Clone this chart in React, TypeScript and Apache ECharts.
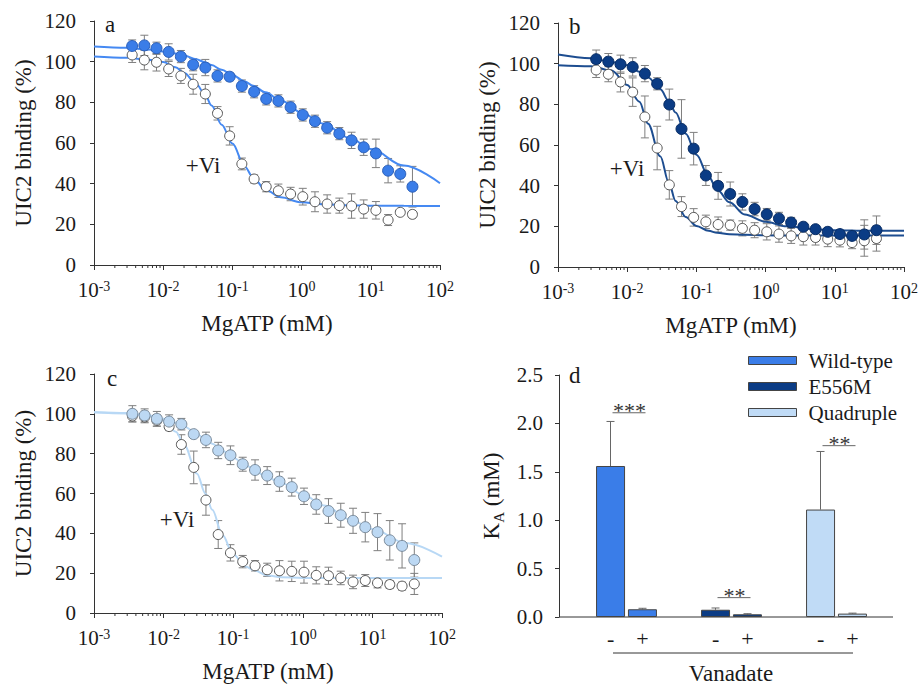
import React, { useEffect, useRef } from 'react';
import * as echarts from 'echarts';

const FONT = 'Liberation Serif';
const INK = '#1a1a1a';

// MgATP concentrations (mM) of the data points
const CONC = [0.00356, 0.00534, 0.008, 0.012, 0.018, 0.0271, 0.0406, 0.0609, 0.0913, 0.137, 0.206, 0.308,
  0.462, 0.694, 1.04, 1.56, 2.34, 3.51, 5.27, 7.9, 11.85, 17.78, 26.67, 40];

// Panel a: wild-type
const A_WT = [107.7, 108, 106.6, 104.8, 102.5, 98.5, 97.1, 93, 92.6, 88, 85.2, 81.7, 80.7, 77.6, 73.8, 70.7, 67.5, 64.6, 61.3, 57.9, 54.9, 46.4, 44.8, 38.5];
const A_WT_ERR = [3, 5, 3, 4, 3, 3, 4, 3, 2, 3, 3, 3, 3, 3, 3, 3, 3, 3, 4, 4, 7, 6, 4, 10];
const A_VI = [103.3, 100.8, 99.7, 96.4, 93, 88.9, 84.1, 74.6, 63.5, 49.7, 42.3, 38.5, 36.5, 34.9, 33.6, 31.1, 30, 29.2, 29, 27.5, 26.9, 22.1, 25.9, 24.9];
const A_VI_ERR = [3.7, 4.8, 4.3, 3.7, 3.7, 4.9, 4.7, 3.3, 4.5, 2.9, 2, 2.5, 3.3, 3.3, 4.1, 4.9, 4.5, 3.7, 6, 4.5, 4.3, 2.7, 1, 1];

// Panel b: E556M
const B_E = [102.2, 101, 99.7, 98.4, 95.1, 90.1, 79.9, 67.9, 58.2, 45, 39.9, 35.9, 32, 28.5, 25.9, 23.9, 21.9, 19.8, 18.6, 17.3, 16.2, 15.3, 16, 18.1];
const B_E_ERR = [4.5, 4, 4.5, 4.5, 4, 3, 7.6, 14.4, 8, 4.9, 6.6, 5.9, 4, 3.3, 2.9, 3, 2.5, 1.8, 1.6, 1.9, 1.6, 1.5, 7.2, 7];
const B_VI = [96.9, 94.8, 91, 86, 73.8, 58.5, 40.4, 29.7, 24.4, 22.2, 20.9, 20.6, 19, 18.1, 17.3, 16.2, 15.3, 14.9, 14.5, 13.7, 13.2, 12, 12.9, 14];
const B_VI_ERR = [3.7, 3.7, 4.9, 7, 10.3, 10.7, 7, 4.9, 4.3, 3.3, 3.7, 2.5, 3.7, 3.7, 4, 4, 3.7, 4.1, 3.7, 3.7, 3.3, 3, 7.6, 6.2];

// Panel c: quadruple mutant
const C_Q = [100, 99.2, 97.5, 96.1, 94.8, 89.8, 86.9, 81.6, 79.2, 74.7, 71.8, 69, 66, 63.2, 58.6, 54.5, 51.2, 49.1, 46.3, 43.1, 40.6, 36.5, 33.7, 26.6];
const C_Q_ERR = [4.1, 3.3, 3.7, 3.4, 2.9, 1.5, 3.9, 4.1, 4.7, 3.5, 5.1, 4.5, 4.9, 4.5, 4.1, 4.9, 6.2, 6, 6.3, 7.4, 9.3, 9.9, 11.1, 8.6];
const C_VI = [98.9, 98.4, 96.7, 93.6, 84.6, 73.1, 56.7, 39.4, 30.2, 25.8, 23.7, 21.7, 21.2, 20.9, 20.5, 18.9, 18.7, 17.6, 15.6, 16.3, 15.1, 14.3, 13.5, 14.6];
const C_VI_ERR = [2.9, 2.9, 2.9, 2, 4.9, 8.2, 7.6, 7, 4.1, 3.1, 2.6, 3.3, 5.1, 5.1, 5.5, 4.3, 4.3, 3.4, 3.4, 3, 2.5, 2, 2, 5.3];

// Fitted curves
const CURVE_X = [0.001, 0.003, 0.006, 0.01, 0.015, 0.02, 0.03, 0.04, 0.05, 0.07, 0.1, 0.15, 0.2, 0.3, 0.5, 1, 2, 5, 10, 30, 100];
const A_WT_FIT = [107.4, 106.8, 106, 105, 104, 103, 101.2, 99.7, 98.3, 96, 93.5, 90.3, 88.1, 84.9, 80.9, 75, 69.6, 62.4, 57, 48.9, 40.2];
const A_VI_FIT = [102.5, 101.9, 101, 99.8, 97.2, 94.5, 89, 84, 78.5, 69, 59.8, 48.5, 43, 37, 33.3, 30.8, 29.9, 29.4, 29.2, 29.1, 29];
const B_E_FIT = [104.5, 102.7, 100.8, 99.2, 96, 93.2, 87.5, 81.5, 76, 65.5, 55.2, 44.5, 38, 31.8, 25.8, 22.2, 20, 18.6, 18.1, 17.8, 17.8];
const B_VI_FIT = [99.2, 98.7, 96.5, 89.5, 81.3, 70.5, 54.5, 41.5, 32.5, 24.6, 20.2, 17.8, 16.8, 16.1, 15.8, 15.6, 15.5, 15.5, 15.5, 15.5, 15.5];
const C_Q_FIT = [100.8, 100.4, 99.3, 97.5, 95.5, 93.5, 89.9, 87.2, 85, 81.5, 78, 74.4, 71.9, 68.3, 65.1, 59.5, 54, 46.6, 42.2, 35.1, 28.3];
const C_VI_FIT = [100.8, 100.2, 98.8, 96.5, 91, 84, 70.1, 59.9, 51.8, 39.2, 29.5, 23.3, 21.5, 19, 18, 17.6, 17.6, 17.6, 17.6, 17.6, 17.6];

// Panel d: K_A bars
const GENOTYPES = ['Wild-type', 'E556M', 'Quadruple'];
const KA_MINUS = [1.56, 0.075, 1.11];
const KA_MINUS_ERR = [0.46, 0.018, 0.6];
const KA_PLUS = [0.08, 0.028, 0.035];
const KA_PLUS_ERR = [0.01, 0.006, 0.005];
const SIG_Y = [2.11, 0.2, 1.77];
const SIG_LABELS = ['***', '**', '**'];
const Y_TICKS_PCT = [0, 120, 20];
const Y_TICKS_KA = [0, 2.5, 0.5];

const COL_WT = '#3a7de8';
const COL_E = '#0b3c85';
const COL_Q = '#c0dbf6';
const GENO_COLORS = [COL_WT, COL_E, COL_Q];

const AXIS_COL = '#333';

function buildOption() {
  const minorTicks: number[][] = [];
  for (let d = -3; d <= 1; d++) for (let k = 2; k <= 9; k++) minorTicks.push([k * Math.pow(10, d), 0]);

  const grids = [
    { left: 94, top: 21, width: 346, height: 244 },
    { left: 558, top: 23, width: 346, height: 244 },
    { left: 94, top: 374, width: 348, height: 242 },
    { left: 574, top: 375, width: 315, height: 242 },
  ];

  const logX = (gi: number) => ({
    type: 'log', gridIndex: gi, min: 0.001, max: 100, logBase: 10,
    axisLine: { show: true, lineStyle: { color: AXIS_COL, width: 1 } },
    axisTick: { show: true, length: 5, lineStyle: { color: AXIS_COL } },
    splitLine: { show: false },
    axisLabel: {
      margin: 14,
      fontFamily: FONT,
      formatter: (v: number) => `{b|10}{s|${Math.round(Math.log10(v))}}`,
      rich: {
        b: { fontSize: 21, fontFamily: FONT, color: INK },
        s: { fontSize: 14, fontFamily: FONT, color: INK, verticalAlign: 'top', lineHeight: 14 },
      },
    },
    name: 'MgATP (mM)', nameLocation: 'middle', nameGap: 47,
    nameTextStyle: { fontSize: 23, fontFamily: FONT, color: INK },
  });

  const pctY = (gi: number) => ({
    type: 'value', gridIndex: gi, min: Y_TICKS_PCT[0], max: Y_TICKS_PCT[1], interval: Y_TICKS_PCT[2],
    axisLine: { show: true, lineStyle: { color: AXIS_COL, width: 1 } },
    axisTick: { show: true, length: 4, lineStyle: { color: AXIS_COL } },
    splitLine: { show: false },
    axisLabel: { margin: 18, fontSize: 21, fontFamily: FONT, color: INK },
    name: 'UIC2 binding (%)', nameLocation: 'middle', nameGap: 59, nameRotate: 90,
    nameTextStyle: { fontSize: 23, fontFamily: FONT, color: INK },
  });

  const errRender = (params: any, api: any) => {
    const x = api.value(0), y = api.value(1), e = api.value(2);
    const t = api.coord([x, y + e]);
    const b = api.coord([x, y - e]);
    const style = { stroke: '#7f7f7f', lineWidth: 1 };
    return {
      type: 'group', children: [
        { type: 'line', shape: { x1: t[0], y1: t[1], x2: b[0], y2: b[1] }, style },
        { type: 'line', shape: { x1: t[0] - 4, y1: t[1], x2: t[0] + 4, y2: t[1] }, style },
        { type: 'line', shape: { x1: b[0] - 4, y1: b[1], x2: b[0] + 4, y2: b[1] }, style },
      ],
    };
  };

  const minorRender = (params: any, api: any) => {
    const p = api.coord([api.value(0), 0]);
    return { type: 'line', shape: { x1: p[0], y1: p[1], x2: p[0], y2: p[1] + 3 }, style: { stroke: AXIS_COL, lineWidth: 1 } };
  };

  const panel = (gi: number, filled: number[], filledErr: number[], open: number[], openErr: number[],
    fitF: number[], fitO: number[], fillCol: string, fillBorder: string, lineCol: string) => [
      { type: 'custom', xAxisIndex: gi, yAxisIndex: gi, renderItem: minorRender, data: minorTicks, silent: true, z: 1 },
      { type: 'custom', xAxisIndex: gi, yAxisIndex: gi, renderItem: errRender, encode: { x: 0, y: 1 }, z: 2,
        data: CONC.map((c, i) => [c, open[i], openErr[i]]) },
      { type: 'custom', xAxisIndex: gi, yAxisIndex: gi, renderItem: errRender, encode: { x: 0, y: 1 }, z: 2,
        data: CONC.map((c, i) => [c, filled[i], filledErr[i]]) },
      { type: 'line', xAxisIndex: gi, yAxisIndex: gi, smooth: 0.35, smoothMonotone: 'x', showSymbol: false, z: 3,
        lineStyle: { color: lineCol, width: 2 }, data: CURVE_X.map((c, i) => [c, fitO[i]]) },
      { type: 'line', xAxisIndex: gi, yAxisIndex: gi, smooth: 0.35, smoothMonotone: 'x', showSymbol: false, z: 3,
        lineStyle: { color: lineCol, width: 2 }, data: CURVE_X.map((c, i) => [c, fitF[i]]) },
      { type: 'scatter', xAxisIndex: gi, yAxisIndex: gi, symbol: 'circle', symbolSize: 10, z: 4,
        itemStyle: { color: '#ffffff', borderColor: '#555', borderWidth: 1, opacity: 1 },
        data: CONC.map((c, i) => [c, open[i]]) },
      { type: 'scatter', xAxisIndex: gi, yAxisIndex: gi, symbol: 'circle', symbolSize: 11, z: 4,
        itemStyle: { color: fillCol, borderColor: fillBorder, borderWidth: 1, opacity: 1 },
        data: CONC.map((c, i) => [c, filled[i]]) },
    ];

  const barErrRender = (params: any, api: any) => {
    const i = api.value(0), v = api.value(1), e = api.value(2), side = api.value(3);
    const base = api.coord([i, v]);
    const top = api.coord([i, v + e]);
    const x = base[0] + side * 16;
    const style = { stroke: '#666', lineWidth: 1 };
    return {
      type: 'group', children: [
        { type: 'line', shape: { x1: x, y1: base[1], x2: x, y2: top[1] }, style },
        { type: 'line', shape: { x1: x - 4, y1: top[1], x2: x + 4, y2: top[1] }, style },
      ],
    };
  };

  const sigRender = (params: any, api: any) => {
    const p = api.coord([api.value(0), api.value(1)]);
    return {
      type: 'group', children: [
        { type: 'line', shape: { x1: p[0] - 14, y1: p[1], x2: p[0] + 19, y2: p[1] }, style: { stroke: '#666', lineWidth: 1 } },
        { type: 'text', x: p[0] + 3, y: p[1] + 9,
          style: { text: SIG_LABELS[params.dataIndex], fontSize: 22, fontFamily: FONT, fill: '#333', align: 'center', verticalAlign: 'bottom' } },
      ],
    };
  };

  const barLabel = { show: true, position: 'bottom', distance: 10, formatter: '{a}', fontSize: 22, fontFamily: FONT, color: INK };

  const series: any[] = [
    ...panel(0, A_WT, A_WT_ERR, A_VI, A_VI_ERR, A_WT_FIT, A_VI_FIT, COL_WT, '#2b5fb8', '#4589f2'),
    ...panel(1, B_E, B_E_ERR, B_VI, B_VI_ERR, B_E_FIT, B_VI_FIT, COL_E, '#072b62', '#1d4d90'),
    ...panel(2, C_Q, C_Q_ERR, C_VI, C_VI_ERR, C_Q_FIT, C_VI_FIT, '#bcd8f3', '#7a8a9a', '#b8d8f5'),
    {
      type: 'bar', name: '-', xAxisIndex: 3, yAxisIndex: 3, barWidth: 29, barGap: '10%', z: 2,
      itemStyle: { borderColor: '#444', borderWidth: 1 }, label: barLabel,
      data: KA_MINUS.map((v, i) => ({ value: v, itemStyle: { color: GENO_COLORS[i] } })),
    },
    {
      type: 'bar', name: '+', xAxisIndex: 3, yAxisIndex: 3, barWidth: 29, z: 2,
      itemStyle: { borderColor: '#444', borderWidth: 1 }, label: barLabel,
      data: KA_PLUS.map((v, i) => ({ value: v, itemStyle: { color: GENO_COLORS[i] } })),
    },
    {
      type: 'custom', xAxisIndex: 3, yAxisIndex: 3, renderItem: barErrRender, z: 1,
      data: [
        ...KA_MINUS.map((v, i) => [i, v, KA_MINUS_ERR[i], -1]),
        ...KA_PLUS.map((v, i) => [i, v, KA_PLUS_ERR[i], 1]),
      ],
    },
    { type: 'custom', xAxisIndex: 3, yAxisIndex: 3, renderItem: sigRender, z: 3, data: SIG_Y.map((y, i) => [i, y]) },
    ...GENOTYPES.map((g, i) => ({ type: 'line', name: g, xAxisIndex: 3, yAxisIndex: 3, data: [], color: GENO_COLORS[i] })),
  ];

  const txt = (text: string, x: number, y: number, size: number, align = 'left') => ({
    type: 'text', x, y, silent: true,
    style: { text, fontSize: size, fontFamily: FONT, fill: INK, align, verticalAlign: 'middle', textAlign: align, textVerticalAlign: 'middle' },
  });

  return {
    animation: false,
    backgroundColor: '#ffffff',
    textStyle: { fontFamily: FONT },
    grid: grids,
    xAxis: [
      logX(0), logX(1), logX(2),
      { type: 'category', gridIndex: 3, data: GENOTYPES, axisLine: { show: false }, axisTick: { show: false }, axisLabel: { show: false } },
    ],
    yAxis: [
      pctY(0), pctY(1), pctY(2),
      {
        type: 'value', gridIndex: 3, min: Y_TICKS_KA[0], max: Y_TICKS_KA[1], interval: Y_TICKS_KA[2], offset: 15,
        axisLine: { show: true, lineStyle: { color: AXIS_COL, width: 1 } },
        axisTick: { show: true, length: 4, lineStyle: { color: AXIS_COL } },
        splitLine: { show: false },
        axisLabel: { margin: 16, fontSize: 21, fontFamily: FONT, color: INK, formatter: (v: number) => v.toFixed(1) },
        name: '{n|K}{sub|A}{n| (mM)}', nameLocation: 'middle', nameGap: 53, nameRotate: 90,
        nameTextStyle: {
          color: INK, fontFamily: FONT,
          rich: {
            n: { fontSize: 23, fontFamily: FONT, color: INK },
            sub: { fontSize: 15, fontFamily: FONT, color: INK, verticalAlign: 'bottom', lineHeight: 30 },
          },
        },
      },
    ],
    legend: {
      data: GENOTYPES,
      orient: 'vertical', left: 748, top: 350, padding: 0,
      icon: 'rect', itemWidth: 48, itemHeight: 8, itemGap: 5, selectedMode: false,
      itemStyle: { borderColor: '#444', borderWidth: 1 },
      textStyle: { fontSize: 21, fontFamily: FONT, color: INK, lineHeight: 20, padding: [0, 0, 0, 7] },
    },
    graphic: [
      { type: 'line', silent: true, shape: { x1: 559, y1: 617, x2: 893, y2: 617 }, style: { stroke: AXIS_COL, lineWidth: 1 } },
      { type: 'line', silent: true, shape: { x1: 613, y1: 653, x2: 853, y2: 653 }, style: { stroke: AXIS_COL, lineWidth: 1 } },
      txt('Vanadate', 731, 673, 23, 'center'),
      txt('a', 105, 24, 23),
      txt('b', 569, 26, 23),
      txt('c', 107, 378, 23),
      txt('d', 569, 375, 23),
      txt('+Vi', 203, 165, 23, 'center'),
      txt('+Vi', 627, 168, 23, 'center'),
      txt('+Vi', 177, 519, 23, 'center'),
    ],
    series,
  };
}

export default function App() {
  const ref = useRef<HTMLDivElement>(null);
  useEffect(() => {
    const chart = echarts.init(ref.current as HTMLDivElement, null, { renderer: 'svg' });
    chart.setOption(buildOption() as any);
    return () => chart.dispose();
  }, []);
  return <div ref={ref} style={{ position: 'absolute', left: 0, top: 0, width: 921, height: 684, background: '#fff' }} />;
}
